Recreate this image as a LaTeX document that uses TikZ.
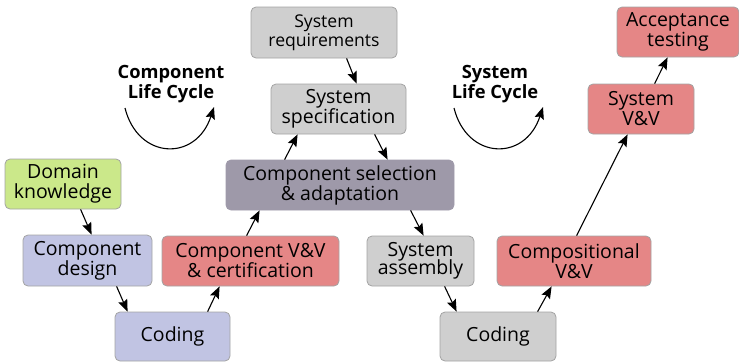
\documentclass[tikz,border=0pt]{standalone}
\usepackage{fontspec}
\setmainfont{Open Sans}
\usetikzlibrary{arrows.meta}
\definecolor{bxgray}{HTML}{CFCFCF}
\definecolor{bxpurple}{HTML}{9E99A9}
\definecolor{bxgreen}{HTML}{CBE88A}
\definecolor{bxlav}{HTML}{C1C4E3}
\definecolor{bxred}{HTML}{E58686}
\definecolor{bxline}{HTML}{A3A3A3}
\newcommand\mytightskip{\lineskiplimit=-100pt\relax\lineskip=0pt\relax}
\tikzset{
  box/.style={draw=bxline, line width=0.8pt, rounded corners=5pt, align=center, inner sep=0pt,
    font=\fontsize{19.5}{20}\selectfont},
  arr/.style={-{Stealth[length=12pt,width=9.5pt,inset=2pt]}, line width=1.1pt},
  lbl/.style={align=center, inner sep=0pt, font=\fontsize{18.3}{20}\selectfont\bfseries},
}
\begin{document}
\begin{tikzpicture}[x=1pt,y=-1pt]
\useasboundingbox (0,0) rectangle (739,362);
% boxes
\node[box, fill=bxgray, minimum width=146pt, minimum height=51pt, font=\fontsize{17.6}{19}\selectfont] (sreq) at (324,32.5) {System\\requirements};
\node[box, fill=bxgray, minimum width=135pt, minimum height=50pt] (sspec) at (338.5,109) {System\\specification};
\node[box, fill=bxpurple, draw=bxpurple, minimum width=228pt, minimum height=50pt] (csel) at (340,185) {Component selection\\\& adaptation};
\node[box, fill=bxgreen, minimum width=116pt, minimum height=50pt] (dom) at (63,184) {Domain\\knowledge};
\node[box, fill=bxlav, minimum width=129pt, minimum height=51pt] (cdes) at (87.5,260.5) {Component\\design};
\node[box, fill=bxred, minimum width=177pt, minimum height=50pt] (cvv) at (250.5,261) {Component V\&V\\\& certification};
\node[box, fill=bxlav, minimum width=115pt, minimum height=49pt] (cod1) at (172.5,336.5) {Coding};
\node[box, fill=bxgray, minimum width=107pt, minimum height=50pt, font=\fontsize{19.5}{18}\selectfont\mytightskip] (sasm) at (420.5,261) {System\\assembly};
\node[box, fill=bxgray, minimum width=116pt, minimum height=49pt] (cod2) at (498,336.5) {Coding};
\node[box, fill=bxred, minimum width=154pt, minimum height=50pt] (comp) at (574,261) {Compositional\\V\&V};
\node[box, fill=bxred, minimum width=106pt, minimum height=50pt] (svv) at (641,109) {System\\V\&V};
\node[box, fill=bxred, minimum width=122pt, minimum height=50pt] (acc) at (678,32) {Acceptance\\testing};
% labels
\node[lbl] (lcomp) at (171,84) {Component\\Life Cycle};
\node[lbl] (lsys) at (495,84) {System\\Life Cycle};
% curved arrows
\coordinate (c1a) at (125,108);
\coordinate (c1b) at (214,107);
\coordinate (c2a) at (454,108);
\coordinate (c2b) at (543,107);
\draw[arr] (c1a) .. controls (138,160) and (196,162) .. (c1b);
\draw[arr] (c2a) .. controls (467,160) and (525,162) .. (c2b);
% connectors
\draw[arr] ([xshift=96pt]sreq.south west) -- ([xshift=86pt]sspec.north west);
\draw[arr] ([xshift=59pt]csel.north west) -- ([xshift=27pt]sspec.south west);
\draw[arr] ([xshift=104pt]sspec.south west) -- ([xshift=162pt]csel.north west);
\draw[arr] ([xshift=76pt]dom.south west) -- ([xshift=69pt]cdes.north west);
\draw[arr] ([xshift=94pt]cdes.south west) -- ([xshift=13pt]cod1.north west);
\draw[arr] ([xshift=93pt]cod1.north west) -- ([xshift=58pt]cvv.south west);
\draw[arr] ([xshift=85pt]cvv.north west) -- ([xshift=34pt]csel.south west);
\draw[arr] ([xshift=185pt]csel.south west) -- ([xshift=57pt]sasm.north west);
\draw[arr] ([xshift=78pt]sasm.south west) -- ([xshift=17pt]cod2.north west);
\draw[arr] ([xshift=98pt]cod2.north west) -- ([xshift=55pt]comp.south west);
\draw[arr] ([xshift=80pt]comp.north west) -- ([xshift=40pt]svv.south west);
\draw[arr] ([xshift=67pt]svv.north west) -- ([xshift=51pt]acc.south west);
\end{tikzpicture}
\end{document}
